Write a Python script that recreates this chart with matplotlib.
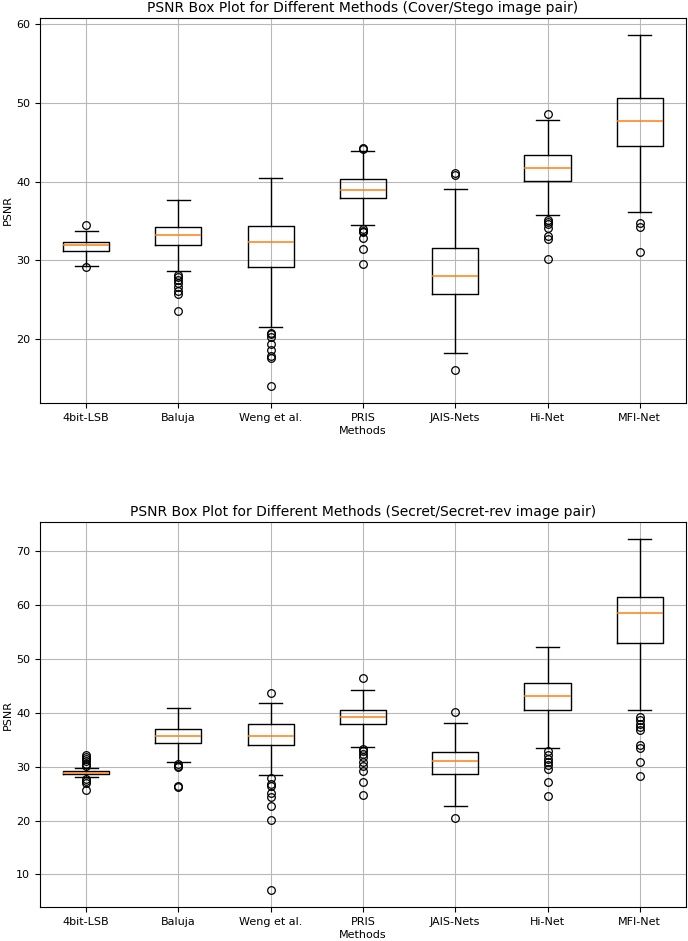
import matplotlib
matplotlib.use('Agg')
import matplotlib.pyplot as plt

methods = ['4bit-LSB', 'Baluja', 'Weng et al.', 'PRIS', 'JAIS-Nets', 'Hi-Net', 'MFI-Net']

# Cover/Stego image pair
cs_whislo = [29.3, 28.6, 21.6, 34.5, 18.2, 35.8, 36.2]
cs_q1 = [31.2, 31.9, 29.2, 37.9, 25.7, 40.1, 44.6]
cs_med = [31.9, 33.2, 32.3, 39.0, 28.0, 41.7, 47.7]
cs_q3 = [32.4, 34.3, 34.4, 40.4, 31.6, 43.4, 50.7]
cs_whishi = [33.8, 37.7, 40.5, 43.9, 39.1, 47.9, 58.6]
cs_fliers = [
    [34.5, 29.2],
    [28.2, 27.9, 27.5, 27.1, 26.6, 26.1, 25.7, 23.6],
    [20.8, 20.6, 20.3, 19.4, 18.6, 17.8, 17.6, 14.1],
    [44.3, 44.1, 34.0, 33.8, 33.6, 32.9, 31.5, 29.6],
    [41.1, 40.9, 16.1],
    [48.6, 35.1, 34.9, 34.6, 34.1, 33.1, 32.7, 30.2],
    [34.7, 34.2, 31.1],
]

# Secret/Secret-rev image pair
sr_whislo = [28.1, 30.9, 28.4, 33.6, 22.7, 33.5, 40.5]
sr_q1 = [28.7, 34.5, 34.0, 37.9, 28.7, 40.6, 53.0]
sr_med = [28.9, 35.8, 35.8, 39.2, 31.0, 43.2, 58.5]
sr_q3 = [29.2, 37.1, 37.9, 40.6, 32.7, 45.6, 61.5]
sr_whishi = [29.7, 41.0, 41.9, 44.2, 38.2, 52.2, 72.2]
sr_fliers = [
    [32.2, 31.9, 31.5, 31.0, 30.5, 30.1, 27.8, 27.4, 27.0, 25.6],
    [30.6, 30.2, 29.9, 26.5, 26.2],
    [43.6, 28.0, 26.8, 26.4, 25.1, 24.4, 22.7, 20.2, 7.2],
    [46.4, 33.3, 32.9, 32.3, 31.8, 30.9, 30.2, 29.3, 27.1, 24.7],
    [40.1, 20.5],
    [32.9, 32.1, 31.5, 30.9, 30.4, 29.6, 27.1, 24.5],
    [39.2, 38.6, 37.9, 37.4, 36.8, 34.1, 33.5, 30.9, 28.2],
]

titles = ['PSNR Box Plot for Different Methods (Cover/Stego image pair)',
          'PSNR Box Plot for Different Methods (Secret/Secret-rev image pair)']


def make_stats(lo, q1, med, q3, hi, fl):
    stats = []
    for i in range(len(methods)):
        stats.append({'label': methods[i], 'whislo': lo[i], 'q1': q1[i], 'med': med[i],
                      'q3': q3[i], 'whishi': hi[i], 'fliers': fl[i]})
    return stats


all_stats = [make_stats(cs_whislo, cs_q1, cs_med, cs_q3, cs_whishi, cs_fliers),
             make_stats(sr_whislo, sr_q1, sr_med, sr_q3, sr_whishi, sr_fliers)]

fig = plt.figure(figsize=(6.88, 9.41), dpi=100)
ax1 = fig.add_axes([0.058, 0.5717, 0.939, 0.4093])
ax2 = fig.add_axes([0.058, 0.0361, 0.939, 0.4092])

for ax, stats, title in zip([ax1, ax2], all_stats, titles):
    ax.bxp(stats, flierprops=dict(marker='o', markersize=5.5, markerfacecolor='none',
                                  markeredgecolor='black', markeredgewidth=0.9),
           boxprops=dict(linewidth=1.0), whiskerprops=dict(linewidth=1.0),
           capprops=dict(linewidth=1.0), medianprops=dict(color='#ff7f0e', linewidth=1.1))
    ax.set_title(title, fontsize=10, pad=4)
    ax.set_xlabel('Methods', fontsize=8, labelpad=2)
    ax.set_ylabel('PSNR', fontsize=8, labelpad=2)
    ax.tick_params(labelsize=8)
    ax.grid(True, color='#b8b8b8')

fig.savefig('out.png', dpi=100)
